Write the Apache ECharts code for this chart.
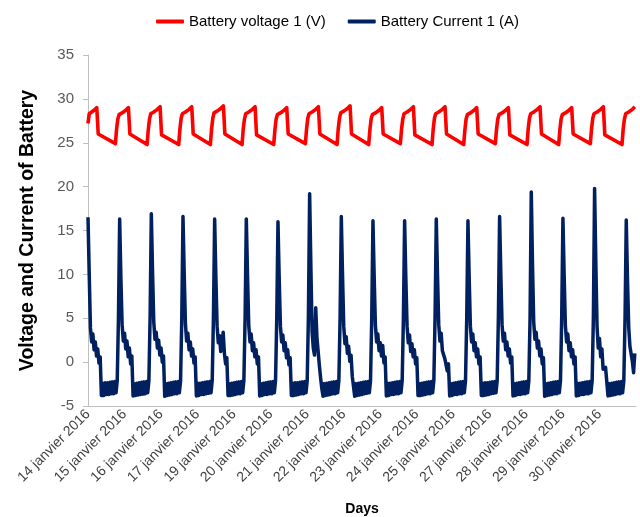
<!DOCTYPE html>
<html>
<head>
<meta charset="utf-8">
<script src="https://cdn.jsdelivr.net/npm/echarts@6/dist/echarts.min.js"></script>
<style>
html,body{margin:0;padding:0;background:#fff;}
#chart{width:640px;height:517px;}
</style>
</head>
<body>
<div id="chart"></div>
<script>
// Tick labels (one every 30 samples)
const dayLabels = ['14 janvier 2016','15 janvier 2016','16 janvier 2016','17 janvier 2016','19 janvier 2016',
  '20 janvier 2016','21 janvier 2016','22 janvier 2016','23 janvier 2016','24 janvier 2016',
  '25 janvier 2016','27 janvier 2016','28 janvier 2016','29 janvier 2016','30 janvier 2016'];
const seriesNames = ['Battery voltage 1 (V)', 'Battery Current 1 (A)'];

// Battery voltage 1 (V): [sample, value] per daily cycle
const volt01 = [[0,27.2],[1,28.3],[2.5,28.4],[5,28.7],[7.2,29.0],[8.4,26.0],[22.5,24.9]];
const volt02 = [[23.5,26.6],[24.5,27.7],[25.5,28.2],[28,28.4],[31,28.7],[33.2,29.0],[34.4,26.0],[48.5,24.8]];
const volt03 = [[49.5,26.5],[50.5,27.7],[51.5,28.3],[54,28.5],[57,28.8],[59.2,29.1],[60.4,25.9],[74.5,24.8]];
const volt04 = [[75.5,26.6],[76.5,27.8],[77.5,28.3],[80,28.5],[83,28.8],[85.2,29.1],[86.4,26.0],[100.5,24.8]];
const volt05 = [[101.5,26.6],[102.5,27.8],[103.5,28.4],[106,28.6],[109,28.9],[111.2,29.2],[112.4,26.0],[126.5,24.8]];
const volt06 = [[127.5,26.6],[128.5,27.7],[129.5,28.3],[132,28.5],[135,28.8],[137.2,29.1],[138.4,25.9],[152.5,24.8]];
const volt07 = [[153.5,26.5],[154.5,27.7],[155.5,28.2],[158,28.4],[161,28.7],[163.2,29.0],[164.4,26.0],[178.5,24.9]];
const volt08 = [[179.5,26.6],[180.5,27.8],[181.5,28.3],[184,28.5],[187,28.8],[189.2,29.1],[190.4,26.0],[204.5,24.8]];
const volt09 = [[205.5,26.6],[206.5,27.8],[207.5,28.4],[210,28.6],[213,28.9],[215.2,29.2],[216.4,26.0],[230.5,24.8]];
const volt10 = [[231.5,26.5],[232.5,27.7],[233.5,28.2],[236,28.4],[239,28.7],[241.2,29.0],[242.4,26.0],[256.5,24.9]];
const volt11 = [[257.5,26.6],[258.5,27.7],[259.5,28.3],[262,28.5],[265,28.8],[267.2,29.1],[268.4,25.9],[282.5,24.8]];
const volt12 = [[283.5,26.6],[284.5,27.8],[285.5,28.3],[288,28.5],[291,28.8],[293.2,29.1],[294.4,26.0],[308.5,24.8]];
const volt13 = [[309.5,26.5],[310.5,27.7],[311.5,28.2],[314,28.4],[317,28.7],[319.2,29.0],[320.4,26.0],[334.5,24.9]];
const volt14 = [[335.5,26.6],[336.5,27.7],[337.5,28.2],[340,28.4],[343,28.7],[345.2,29.0],[346.4,25.9],[360.5,24.8]];
const volt15 = [[361.5,26.6],[362.5,27.8],[363.5,28.3],[366,28.5],[369,28.8],[371.2,29.1],[372.4,26.0],[386.5,24.8]];
const volt16 = [[387.5,26.5],[388.5,27.7],[389.5,28.2],[392,28.4],[395,28.7],[397.2,29.0],[398.4,26.0],[412.5,24.9]];
const volt17 = [[413.5,26.6],[414.5,27.8],[415.5,28.3],[418,28.5],[421,28.8],[423.2,29.1],[424.4,25.9],[438.5,24.8]];
const volt18 = [[439.5,26.6],[440.5,27.7],[441.5,28.3],[444,28.5],[447,28.8],[449,29.1]];

// Battery current 1 (A): one value per sample, 26 samples per daily cycle
const cur01 = [16.5,10.0,3.9,2.3,3.2,1.4,2.3,0.7,1.5,-0.1,0.6,-3.8,-2.4,-3.8,-2.35,-3.7,-2.35,-3.7,-2.3,-3.6,-2.25,-3.6,-2.2,-3.5,-2.1,5.0];
const cur02 = [16.3,9.6,4.3,2.4,3.3,1.5,2.4,0.6,1.6,-0.2,0.7,-3.85,-2.45,-3.8,-2.4,-3.75,-2.35,-3.7,-2.3,-3.65,-2.25,-3.6,-2.2,-3.5,-2.1,5.2];
const cur03 = [16.9,10.3,4.6,2.6,3.4,1.6,2.5,0.8,1.6,0.0,0.7,-3.9,-2.45,-3.8,-2.4,-3.75,-2.35,-3.7,-2.3,-3.6,-2.25,-3.6,-2.2,-3.5,-2.15,4.9];
const cur04 = [16.6,10.1,4.4,2.4,3.3,1.4,2.3,0.7,1.5,-0.1,0.6,-3.85,-2.4,-3.8,-2.4,-3.7,-2.35,-3.7,-2.3,-3.6,-2.25,-3.55,-2.2,-3.5,-2.1,5.1];
const cur05 = [16.3,9.8,4.1,2.2,3.0,1.2,2.1,3.4,1.0,-0.2,0.5,-3.8,-2.45,-3.8,-2.4,-3.75,-2.35,-3.7,-2.3,-3.6,-2.25,-3.6,-2.2,-3.5,-2.1,5.0];
const cur06 = [16.3,9.9,4.2,2.3,3.2,1.3,2.2,0.6,1.4,-0.2,0.6,-3.85,-2.45,-3.8,-2.4,-3.7,-2.35,-3.7,-2.3,-3.6,-2.25,-3.6,-2.2,-3.5,-2.1,5.0];
const cur07 = [16.0,9.6,4.1,2.3,3.1,1.3,2.2,0.5,1.4,-0.3,0.5,-3.8,-2.4,-3.8,-2.35,-3.75,-2.35,-3.7,-2.3,-3.6,-2.25,-3.6,-2.2,-3.5,-2.1,5.3];
const cur08 = [19.2,11.0,3.5,1.6,0.8,6.2,2.8,1.2,-0.4,-1.8,-3.0,-3.9,-2.45,-3.8,-2.4,-3.75,-2.35,-3.7,-2.3,-3.6,-2.25,-3.6,-2.2,-3.5,-2.1,5.0];
const cur09 = [16.6,10.0,4.1,2.1,2.9,1.0,1.8,0.1,0.8,-1.6,-1.8,-3.9,-2.45,-3.8,-2.4,-3.75,-2.35,-3.7,-2.3,-3.6,-2.25,-3.55,-2.2,-3.5,-2.1,5.1];
const cur10 = [16.1,9.7,4.2,2.3,3.2,1.3,2.2,0.7,1.9,-0.1,0.6,-3.85,-2.4,-3.8,-2.4,-3.7,-2.35,-3.7,-2.3,-3.6,-2.25,-3.6,-2.2,-3.5,-2.1,5.0];
const cur11 = [16.1,9.6,4.1,2.2,3.1,1.2,2.1,0.6,1.4,-0.2,0.5,-3.8,-2.45,-3.8,-2.4,-3.75,-2.35,-3.7,-2.3,-3.6,-2.25,-3.6,-2.2,-3.5,-2.1,5.2];
const cur12 = [16.3,9.9,4.3,2.4,3.3,1.3,1.4,0.4,-0.3,-1.0,-0.2,-3.85,-2.45,-3.8,-2.4,-3.7,-2.35,-3.7,-2.3,-3.6,-2.25,-3.6,-2.2,-3.5,-2.1,5.0];
const cur13 = [16.1,9.7,4.1,2.3,3.2,1.3,2.2,0.6,1.5,-0.2,0.6,-3.8,-2.4,-3.8,-2.35,-3.75,-2.35,-3.7,-2.3,-3.6,-2.25,-3.55,-2.2,-3.5,-2.1,5.1];
const cur14 = [16.6,10.0,4.3,2.4,3.3,1.4,2.3,0.7,1.5,-0.1,0.6,-3.85,-2.45,-3.8,-2.4,-3.7,-2.35,-3.7,-2.3,-3.6,-2.25,-3.6,-2.2,-3.5,-2.1,5.0];
const cur15 = [19.4,11.2,4.6,2.6,3.4,1.6,2.4,0.7,1.5,-0.2,0.5,-3.9,-2.45,-3.8,-2.4,-3.75,-2.35,-3.7,-2.3,-3.6,-2.25,-3.6,-2.2,-3.5,-2.1,5.2];
const cur16 = [16.4,9.9,4.2,2.3,3.2,1.3,2.2,0.6,1.4,-0.2,0.6,-3.85,-2.4,-3.8,-2.4,-3.7,-2.35,-3.7,-2.3,-3.6,-2.25,-3.6,-2.2,-3.5,-2.1,5.1];
const cur17 = [19.8,11.4,4.1,1.6,2.7,0.6,1.5,-0.8,-1.0,-0.6,-0.8,-3.85,-2.45,-3.8,-2.4,-3.75,-2.35,-3.7,-2.3,-3.6,-2.25,-3.6,-2.2,-3.5,-2.1,5.0];
const cur18 = [16.2,9.5,4.0,1.8,2.0,0.1,-1.2,1.0];

const voltage = [].concat(volt01,volt02,volt03,volt04,volt05,volt06,volt07,volt08,volt09,
  volt10,volt11,volt12,volt13,volt14,volt15,volt16,volt17,volt18);
const currentVals = [].concat(cur01,cur02,cur03,cur04,cur05,cur06,cur07,cur08,cur09,
  cur10,cur11,cur12,cur13,cur14,cur15,cur16,cur17,cur18);
const current = currentVals.map((v, i) => [i, v]);

const FONT = 'Liberation Sans';
const chart = echarts.init(document.getElementById('chart'), null, {renderer: 'canvas'});
chart.setOption({
  animation: false,
  backgroundColor: '#ffffff',
  textStyle: {fontFamily: FONT},
  legend: {
    top: 9, left: 151, itemGap: 22,
    icon: 'roundRect', itemWidth: 28, itemHeight: 4,
    textStyle: {fontFamily: FONT, fontSize: 15, color: '#000'},
    data: seriesNames
  },
  grid: {left: 88, right: 4, top: 55, bottom: 111, containLabel: false, outerBoundsMode: 'none'},
  xAxis: [{
    type: 'value', min: 0, max: 450, interval: 30,
    axisLine: {show: false}, axisTick: {show: false}, splitLine: {show: false},
    axisLabel: {
      rotate: 45, margin: 6, fontSize: 14, color: '#404040', fontFamily: FONT,
      showMaxLabel: false,
      formatter: v => dayLabels[Math.round(v / 30)] || ''
    },
    name: 'Days', nameLocation: 'middle', nameGap: 96,
    nameTextStyle: {fontWeight: 'bold', fontSize: 14, color: '#000', fontFamily: FONT}
  }, {
    type: 'value', min: 0, max: 450, position: 'bottom',
    axisLine: {show: true, onZero: true, lineStyle: {color: '#bfbfbf', width: 1}},
    axisTick: {show: false}, axisLabel: {show: false}, splitLine: {show: false}
  }],
  yAxis: {
    type: 'value', min: -5, max: 35, interval: 5,
    axisLine: {show: true, lineStyle: {color: '#bfbfbf'}},
    axisTick: {show: true, length: 5, lineStyle: {color: '#bfbfbf'}},
    splitLine: {show: false},
    axisLabel: {fontSize: 15, color: '#595959', margin: 14, fontFamily: FONT},
    name: 'Voltage and Current of Battery', nameLocation: 'middle', nameGap: 50,
    nameTextStyle: {fontWeight: 'bold', fontSize: 19.5, color: '#000', fontFamily: FONT}
  },
  series: [{
    name: seriesNames[0], type: 'line', data: voltage, xAxisIndex: 0,
    showSymbol: false, symbol: 'none', sampling: null,
    lineStyle: {color: '#ff0000', width: 3.6, join: 'round'},
    itemStyle: {color: '#ff0000'}
  }, {
    name: seriesNames[1], type: 'line', data: current, xAxisIndex: 0,
    showSymbol: false, symbol: 'none',
    lineStyle: {color: '#002060', width: 3.5, join: 'round'},
    itemStyle: {color: '#002060'}
  }]
});
</script>
</body>
</html>
